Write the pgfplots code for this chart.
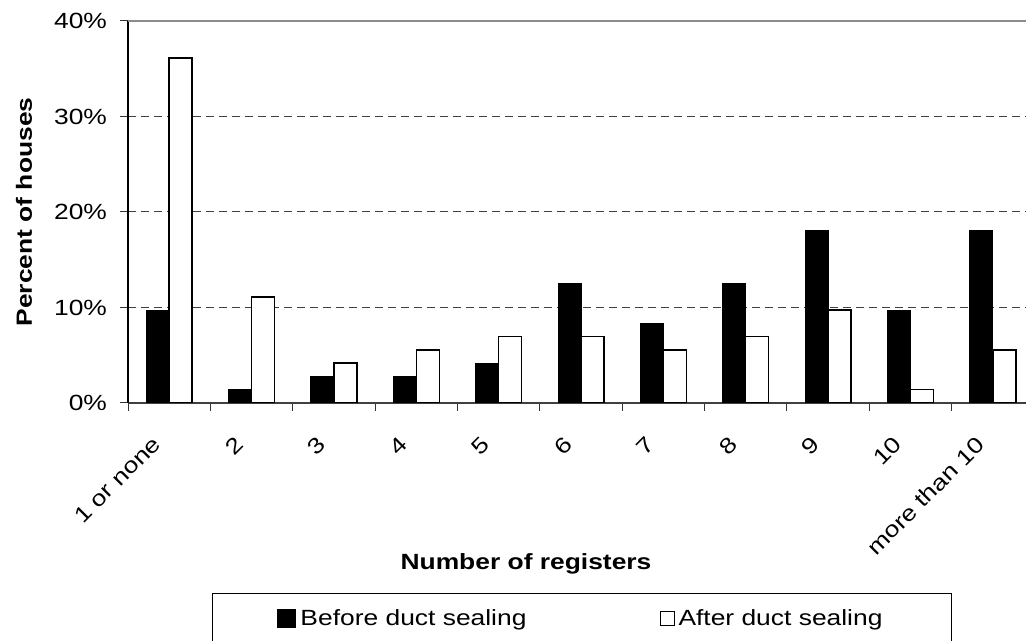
\documentclass[border=0pt]{standalone}
\usepackage{fontspec}
\setmainfont{Liberation Sans}[FakeStretch=1.2]
\usepackage{pgfplots}
\pgfplotsset{compat=1.18}
\begin{document}
\begin{tikzpicture}[font=\fontsize{11}{13}\selectfont]
\begin{axis}[
  at={(64pt,119pt)}, anchor=south west,
  scale only axis, width=453pt, height=191pt,
  ybar=0pt, bar width=11.5pt,
  xmin=-0.5, xmax=10.5, ymin=0, ymax=40,
  xtick={0,...,10},
  xticklabels={1 or none,2,3,4,5,6,7,8,9,10,more than 10},
  minor xtick={-0.5,0.5,...,10.5},
  ytick={0,10,20,30,40},
  yticklabels={\textrm{0\%},\textrm{10\%},\textrm{20\%},\textrm{30\%},\textrm{40\%}},
  tick align=outside,
  major tick length=4pt, minor tick length=4pt,
  tick style={black!80, line width=0.5pt},
  major x tick style={draw=none},
  axis x line*=bottom, axis y line*=left,
  x axis line style={black!75, line width=0.7pt},
  y axis line style={black, line width=0.6pt},
  ymajorgrids,
  major grid style={dash pattern=on 4pt off 2.5pt, black!75, line width=0.5pt},
  yticklabel style={xshift=-3pt, font=\fontsize{11}{13}\selectfont},
  xticklabel style={xshift=-9pt, yshift=-7pt, rotate=45, anchor=north east},
  xlabel={\bfseries Number of registers},
  xlabel style={at={(axis description cs:0.4393,-0.422)}, anchor=center},
  ylabel={\bfseries Percent of houses},
  ylabel style={at={(axis description cs:-0.1148,0.5)}, anchor=center},
  legend columns=2,
  legend style={at={(axis description cs:0.0927,-0.497)}, anchor=north west,
    draw=black, line width=0.5pt, inner xsep=32.5pt, inner ysep=6pt,
    /tikz/every even column/.append style={column sep=64.5pt}},
  legend cell align=left,
]
\addplot[fill=black, draw=black, line width=0.5pt,
  legend image code/.code={\fill[black] (0pt,-4.5pt) rectangle (9pt,4.5pt);}]
  coordinates {(0,9.72) (1,1.39) (2,2.78) (3,2.78) (4,4.17) (5,12.5) (6,8.33) (7,12.5) (8,18.06) (9,9.72) (10,18.06)};
\addplot[fill=white, draw=black, line width=0.75pt,
  legend image code/.code={\draw[black, line width=0.5pt, fill=white] (0pt,-3.5pt) rectangle (7pt,3.5pt);}]
  coordinates {(0,36.11) (1,11.11) (2,4.17) (3,5.56) (4,6.94) (5,6.94) (6,5.56) (7,6.94) (8,9.72) (9,1.39) (10,5.56)};
\legend{Before duct sealing, After duct sealing}
\draw[black!45, line width=0.8pt] (axis cs:-0.5,40) -- (axis cs:10.5,40);
\end{axis}
\pgfresetboundingbox
\useasboundingbox (0,0) rectangle (513pt,320.5pt);
\end{tikzpicture}
\end{document}
